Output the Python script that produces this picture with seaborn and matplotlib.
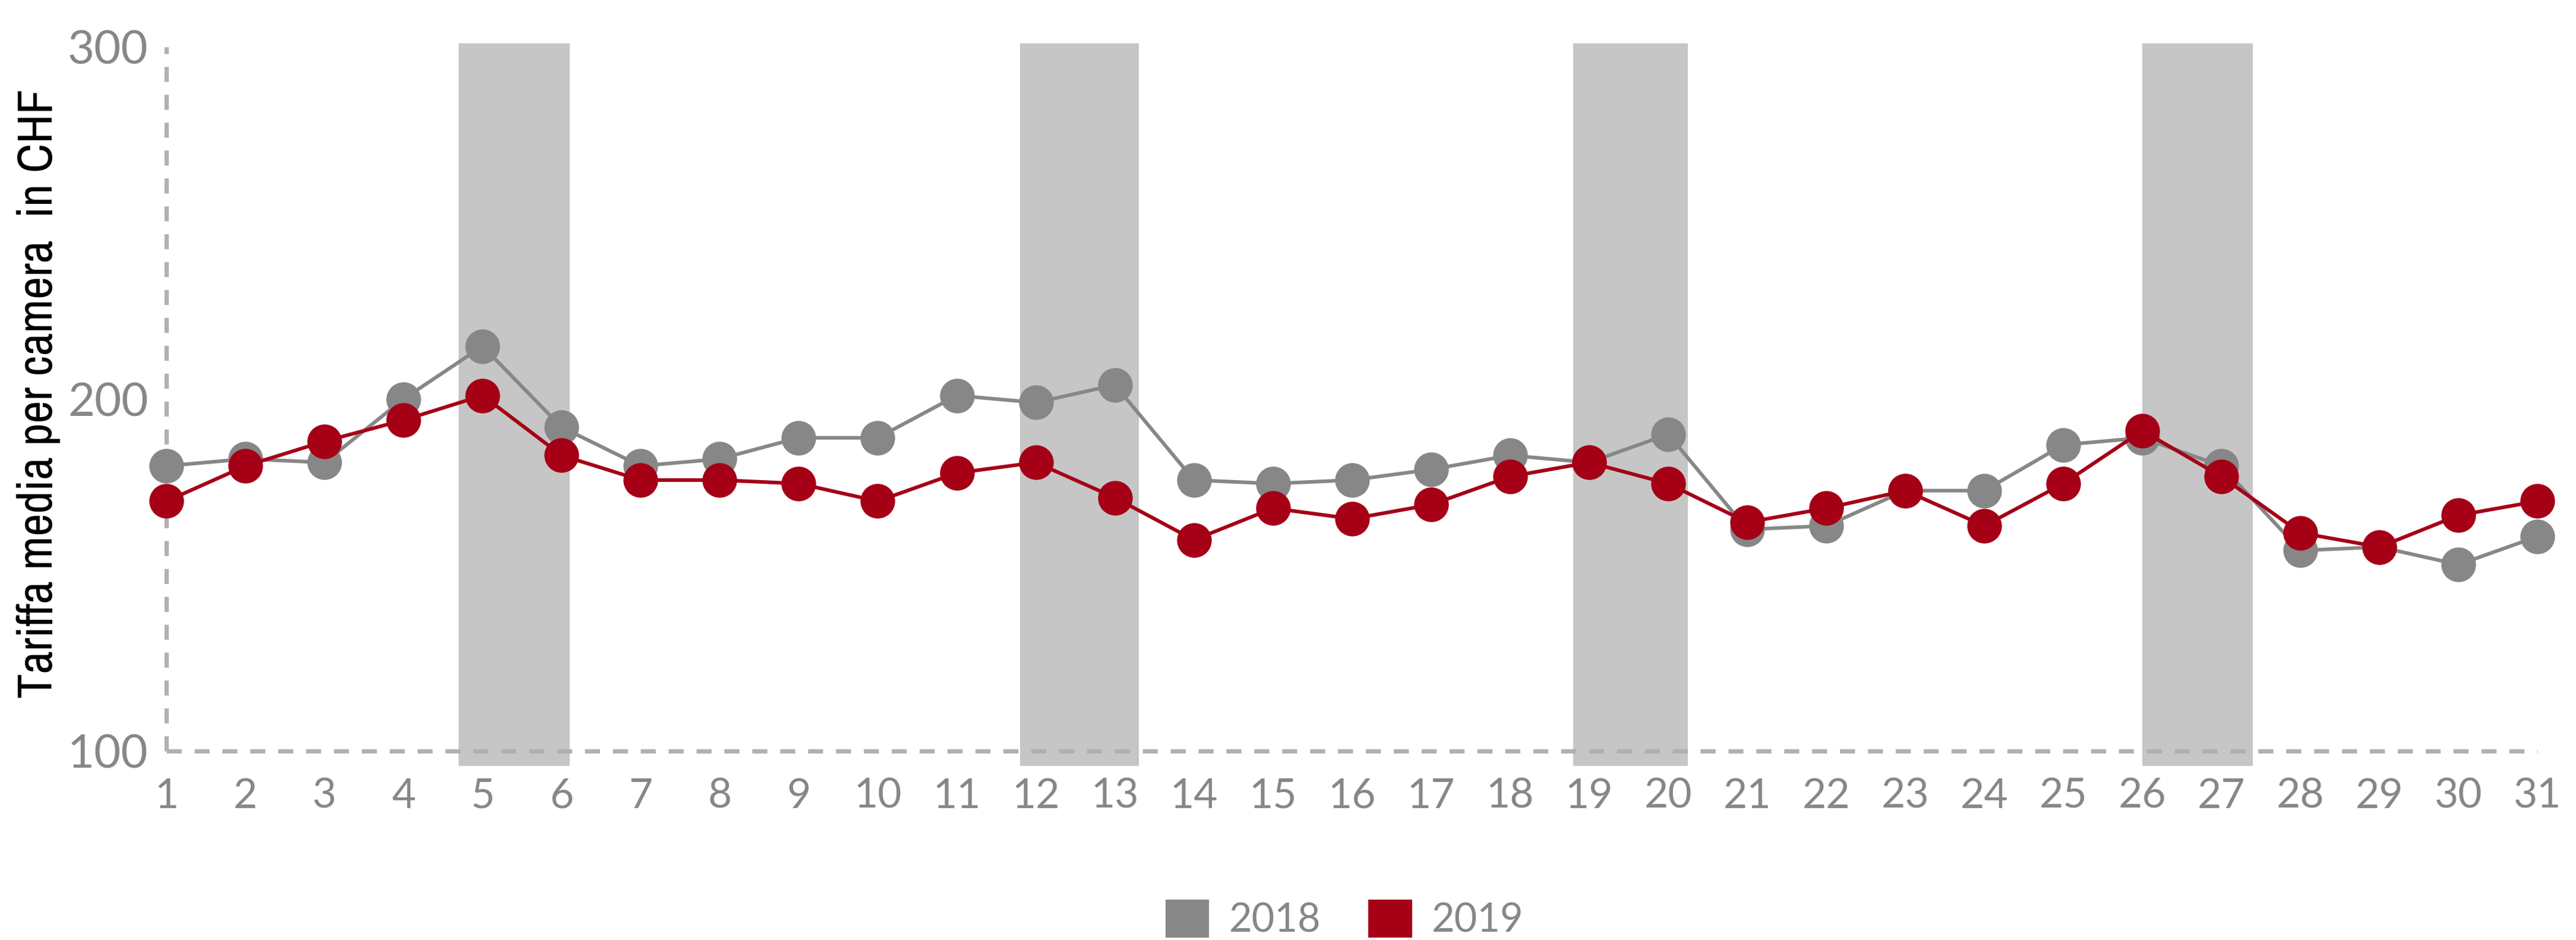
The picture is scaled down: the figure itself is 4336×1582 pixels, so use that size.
import pandas as pd
import matplotlib.pyplot as plt
import seaborn as sns
from matplotlib.patches import Patch
from matplotlib import font_manager

# Données
giorni = list(range(1, 32))
tariffa_2018 = [181, 183, 182, 200, 215, 192, 181, 183, 189, 189, 201, 199, 204, 177, 176, 177,
                180, 184, 182, 190, 163, 164, 174, 174, 187, 189, 181, 157, 158, 153, 161]
tariffa_2019 = [171, 181, 188, 194, 201, 184, 177, 177, 176, 171, 179, 182, 172, 160, 169, 166,
                170, 178, 182, 176, 165, 169, 174, 164, 176, 191, 178, 162, 158, 167, 171]
anni = ["2018", "2019"]
weekend = [(4.7, 6.1), (11.8, 13.3), (18.8, 20.25), (26.0, 27.4)]

colori = {"2018": "#878787", "2019": "#A50016"}

df = pd.DataFrame({
    "giorno": giorni * 2,
    "anno": ["2018"] * len(giorni) + ["2019"] * len(giorni),
    "tariffa": tariffa_2018 + tariffa_2019,
})

sns.set_style("white")
plt.rcParams['font.family'] = ['Lato', 'DejaVu Sans']

# police étroite pour le titre de l'axe y
noms = {f.name for f in font_manager.fontManager.ttflist}
police_label = 'Archivo Narrow' if 'Archivo Narrow' in noms else 'Lato'

fig = plt.figure(figsize=(21.68, 7.91), dpi=200)
ax = fig.add_axes([0.0646, 0.185, 0.9205, 0.769])

# bandes grises (week-end)
for a, b in weekend:
    ax.axvspan(a, b, ymin=0, ymax=1, color="#C6C6C6", lw=0, zorder=0)

sns.lineplot(data=df, x="giorno", y="tariffa", hue="anno", palette=colori,
             marker="o", markersize=21, markeredgewidth=0, linewidth=2.2,
             legend=False, ax=ax, zorder=3)
for line in ax.lines:
    line.set_clip_on(False)

# axes pointillés
ax.plot([1, 1], [100, 300], ls=(0, (3.5, 3)), color="#B0B0B0", lw=2.6, zorder=1, clip_on=False)
ax.plot([1, 31], [100, 100], ls=(0, (3.5, 3)), color="#B0B0B0", lw=2.6, zorder=1, clip_on=False)

ax.set_xlim(1, 31)
ax.set_ylim(95.8, 301)
ax.set_xticks(giorni)
ax.set_xticklabels([str(g) for g in giorni], fontsize=25, color="#878787")
ax.set_yticks([100, 200, 300])
ax.set_yticklabels(["100", "200", "300"], fontsize=28, color="#878787")
ax.tick_params(axis="x", length=0, pad=7)
ax.tick_params(axis="y", length=0, pad=11)
for s in ax.spines.values():
    s.set_visible(False)
ax.set_xlabel("")
ax.set_ylabel("")

fig.text(0.015, 0.581, "Tariffa media per camera  in CHF", rotation=90,
         ha="center", va="center", fontsize=30, color="black",
         family=[police_label, 'Lato'])

handles = [Patch(facecolor=colori[a], edgecolor="none", label=a) for a in anni]
fig.legend(handles=handles, loc="center", bbox_to_anchor=(0.522, 0.022), ncol=2,
           frameon=False, fontsize=24, labelcolor="#878787",
           handlelength=1.1, handleheight=1.1, handletextpad=0.5, columnspacing=1.2)

fig.savefig("out.png", dpi=200, facecolor="white")
